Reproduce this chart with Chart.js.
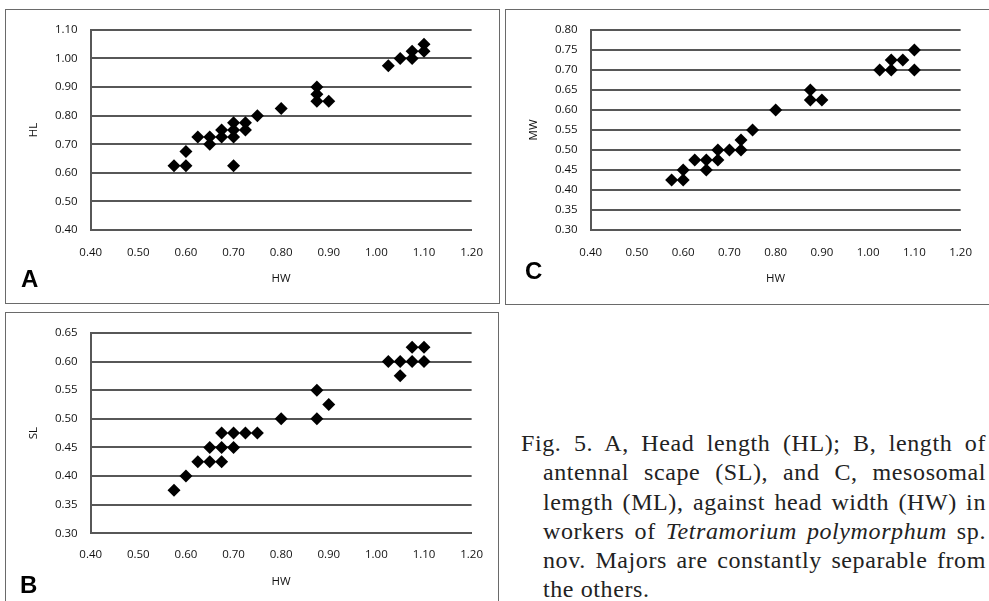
<!DOCTYPE html>
<html>
<head>
<meta charset="utf-8">
<script src="https://cdn.jsdelivr.net/npm/chart.js@4.4.1/dist/chart.umd.min.js"></script>
<style>
  html, body { margin: 0; padding: 0; background: #fff; }
  body { width: 989px; height: 601px; position: relative; overflow: hidden; }
  .frame { position: absolute; box-sizing: border-box; border: 1.5px solid #6a6a6a; }
  canvas { position: absolute; }
  .tag { position: absolute; font-family: "Liberation Sans", Arial, sans-serif; font-weight: bold; font-size: 24px; line-height: 24px; color: #000; }
  .caption { position: absolute; left: 521px; top: 429px; width: 465px; font-family: "Liberation Serif", "Times New Roman", serif; font-size: 24px; letter-spacing: 0.6px; line-height: 29.3px; color: #222; }
  .caption div { text-align: justify; text-align-last: justify; white-space: nowrap; }
  .caption div.ind { padding-left: 22px; }
  .caption div.last { text-align-last: left; }
</style>
</head>
<body>
<div class="frame" style="left:5px; top:9px; width:495px; height:295px;"></div>
<div class="frame" style="left:505px; top:9px; width:500px; height:296px;"></div>
<div class="frame" style="left:5px; top:312px; width:494px; height:300px;"></div>

<canvas id="chartA" width="493" height="293" style="left:6px; top:10px;"></canvas>
<canvas id="chartC" width="481" height="294" style="left:507px; top:10px;"></canvas>
<canvas id="chartB" width="492" height="288" style="left:6px; top:313px;"></canvas>

<div class="tag" style="left:21px; top:267px;">A</div>
<div class="tag" style="left:525px; top:259px;">C</div>
<div class="tag" style="left:20px; top:573px;">B</div>

<div class="caption">
  <div>Fig. 5. A, Head length (HL); B, length of</div>
  <div class="ind">antennal scape (SL), and C, mesosomal</div>
  <div class="ind">lemgth (ML), against head width (HW) in</div>
  <div class="ind">workers of <i>Tetramorium polymorphum</i> sp.</div>
  <div class="ind">nov. Majors are constantly separable from</div>
  <div class="ind last">the others.</div>
</div>

<script>
// A: head length (HL) against head width (HW)
const hwA = [0.575, 0.60, 0.60, 0.625, 0.65, 0.65, 0.675, 0.675, 0.70, 0.70, 0.70, 0.70, 0.725, 0.725,
             0.75, 0.80, 0.875, 0.875, 0.875, 0.90, 1.025, 1.05, 1.075, 1.075, 1.10, 1.10];
const hlA = [0.625, 0.625, 0.675, 0.725, 0.725, 0.70, 0.75, 0.725, 0.775, 0.75, 0.725, 0.625, 0.775, 0.75,
             0.80, 0.825, 0.90, 0.875, 0.85, 0.85, 0.975, 1.00, 1.025, 1.00, 1.05, 1.025];

// C: mesosoma (MW) against head width (HW)
const hwC = [0.575, 0.60, 0.60, 0.625, 0.65, 0.65, 0.675, 0.675, 0.70, 0.725, 0.725, 0.75, 0.80,
             0.875, 0.875, 0.90, 1.025, 1.05, 1.05, 1.075, 1.10, 1.10];
const mwC = [0.425, 0.45, 0.425, 0.475, 0.475, 0.45, 0.50, 0.475, 0.50, 0.525, 0.50, 0.55, 0.60,
             0.65, 0.625, 0.625, 0.70, 0.725, 0.70, 0.725, 0.75, 0.70];

// B: scape length (SL) against head width (HW)
const hwB = [0.575, 0.60, 0.625, 0.65, 0.65, 0.675, 0.675, 0.675, 0.70, 0.70, 0.725, 0.75, 0.80,
             0.875, 0.875, 0.90, 1.025, 1.05, 1.05, 1.075, 1.075, 1.10, 1.10];
const slB = [0.375, 0.40, 0.425, 0.45, 0.425, 0.475, 0.45, 0.425, 0.475, 0.45, 0.475, 0.475, 0.50,
             0.55, 0.50, 0.525, 0.60, 0.60, 0.575, 0.625, 0.60, 0.625, 0.60];

const xRange = [0.40, 1.20, 0.10];
const yRangeA = [0.40, 1.10, 0.10];
const yRangeC = [0.30, 0.80, 0.05];
const yRangeB = [0.30, 0.65, 0.05];

const FONT = '"Open Sans", "DejaVu Sans", sans-serif';
const LINE = '#575757';
const TXT = '#111';

function makePanel(id, xs, ys, yRange, yTitle, lay) {
    const ctx = document.getElementById(id).getContext('2d');
    const points = xs.map((x, i) => ({ x: x, y: ys[i] }));
    return new Chart(ctx, {
        type: 'scatter',
        data: {
            datasets: [{
                data: points,
                pointStyle: 'rectRot',
                pointRadius: 6.5,
                pointBorderWidth: 0,
                backgroundColor: '#000',
                borderColor: '#000'
            }]
        },
        options: {
            responsive: false,
            animation: false,
            events: [],
            layout: { padding: lay.padding },
            plugins: { legend: { display: false }, tooltip: { enabled: false } },
            scales: {
                x: {
                    type: 'linear',
                    min: xRange[0], max: xRange[1],
                    ticks: {
                        stepSize: xRange[2], padding: lay.xTickPad, color: TXT,
                        font: { family: FONT, size: 11.5 }, maxRotation: 0, autoSkip: false,
                        callback: v => v.toFixed(2)
                    },
                    grid: { display: false, drawTicks: false },
                    border: { display: true, color: LINE, width: 2 },
                    title: { display: true, text: 'HW', padding: 0, color: TXT, font: { family: FONT, size: 11.5 } },
                    afterFit: s => { s.height = lay.xHeight; }
                },
                y: {
                    min: yRange[0], max: yRange[1],
                    ticks: {
                        stepSize: yRange[2], padding: 13, color: TXT,
                        font: { family: FONT, size: 11.5 },
                        callback: v => v.toFixed(2)
                    },
                    grid: { color: LINE, lineWidth: 2, drawTicks: false },
                    border: { display: true, color: LINE, width: 2 },
                    title: { display: true, text: yTitle, padding: 0, color: TXT, font: { family: FONT, size: 11.5 } },
                    afterFit: s => { s.width = lay.yWidth; }
                }
            }
        }
    });
}

makePanel('chartA', hwA, hlA, yRangeA, 'HL', {
    padding: { left: 20.4, top: 14, right: 26.3, bottom: 17.4 },
    xTickPad: 16, xHeight: 55.6, yWidth: 64.3
});
makePanel('chartC', hwC, mwC, yRangeC, 'MW', {
    padding: { left: 19.4, top: 15, right: 16.3, bottom: 18.1 },
    xTickPad: 16, xHeight: 55.9, yWidth: 64.3
});
makePanel('chartB', hwB, slB, yRangeB, 'SL', {
    padding: { left: 20.4, top: 14.3, right: 26.3, bottom: 12.7 },
    xTickPad: 15, xHeight: 55, yWidth: 64.3
});
</script>
</body>
</html>
